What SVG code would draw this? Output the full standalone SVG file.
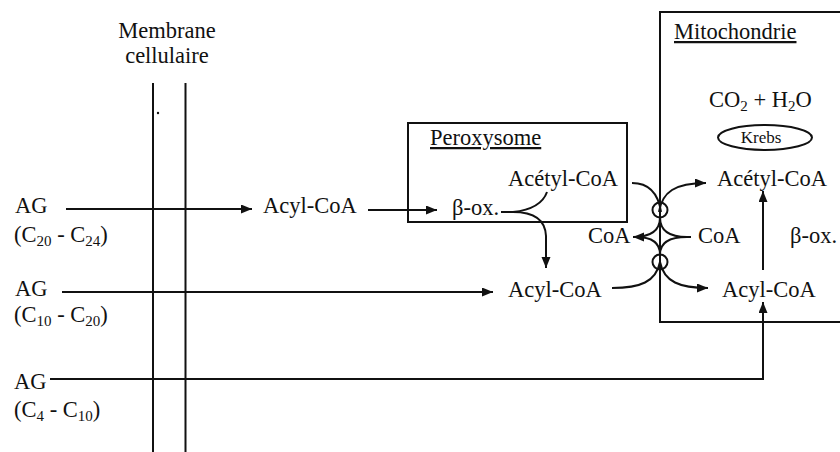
<svg xmlns="http://www.w3.org/2000/svg" width="840" height="452" viewBox="0 0 840 452">
<defs>
<style>
text{font-family:"Liberation Serif","Times New Roman",serif;font-size:22.5px;fill:#111}
.sub{font-size:15px}
.ln{fill:none;stroke:#111;stroke-width:2}
.box{fill:none;stroke:#111;stroke-width:2}
.u{text-decoration:underline}
</style>
<marker id="ah" markerUnits="userSpaceOnUse" markerWidth="12" markerHeight="10" refX="11" refY="4.5" orient="auto">
<path d="M0,0 L11,4.5 L0,9 Z" fill="#111"/>
</marker>
</defs>
<rect width="840" height="452" fill="#fff"/>

<g id="membrane">
<line class="ln" x1="153" y1="83" x2="153" y2="452"/>
<line class="ln" x1="185.5" y1="83" x2="185.5" y2="452"/>
<circle cx="158" cy="113" r="1.2" fill="#111"/>
<text x="167" y="38" text-anchor="middle">Membrane</text>
<text x="167" y="63" text-anchor="middle">cellulaire</text>
</g>

<g id="mitochondrie">
<path class="box" d="M840 12 H660 V322 H840"/>
<text x="674" y="39" class="u">Mitochondrie</text>
<text x="709" y="107">CO<tspan class="sub" dy="4">2</tspan><tspan dy="-4"> + H</tspan><tspan class="sub" dy="4">2</tspan><tspan dy="-4">O</tspan></text>
</g>

<g id="krebs">
<ellipse cx="765" cy="137.5" rx="47" ry="12.5" fill="none" stroke="#111" stroke-width="2"/>
<text x="761" y="143" text-anchor="middle" style="font-size:17px">Krebs</text>
</g>

<g id="peroxysome">
<rect class="box" x="408" y="123" width="219" height="99"/>
<text x="430" y="145" class="u">Peroxysome</text>
</g>

<g id="ag1"><text x="15" y="213">AG</text><text x="14" y="242">(C<tspan class="sub" dy="4">20</tspan><tspan dy="-4"> - C</tspan><tspan class="sub" dy="4">24</tspan><tspan dy="-4">)</tspan></text></g>
<g id="ag2"><text x="15" y="296">AG</text><text x="14" y="322">(C<tspan class="sub" dy="4">10</tspan><tspan dy="-4"> - C</tspan><tspan class="sub" dy="4">20</tspan><tspan dy="-4">)</tspan></text></g>
<g id="ag3"><text x="14" y="389">AG</text><text x="14" y="417">(C<tspan class="sub" dy="4">4</tspan><tspan dy="-4"> - C</tspan><tspan class="sub" dy="4">10</tspan><tspan dy="-4">)</tspan></text></g>

<g id="acylcoa-cyto"><text x="263" y="213">Acyl-CoA</text></g>
<g id="box-betaox"><text x="452" y="215">β-ox.</text></g>
<g id="acetylcoa-perox"><text x="508" y="186">Acétyl-CoA</text></g>
<g id="acylcoa-perox"><text x="508" y="297">Acyl-CoA</text></g>
<g id="coa-left"><text x="588" y="243">CoA</text></g>
<g id="coa-right"><text x="698" y="243">CoA</text></g>
<g id="acetylcoa-mito"><text x="717" y="186">Acétyl-CoA</text></g>
<g id="acylcoa-mito"><text x="722" y="297">Acyl-CoA</text></g>
<g id="betaox-mito"><text x="790" y="243">β-ox.</text></g>

<g id="transporters">
<circle cx="660" cy="210" r="7.5" fill="none" stroke="#111" stroke-width="2"/>
<circle cx="660" cy="262" r="7.5" fill="none" stroke="#111" stroke-width="2"/>
</g>

<g id="connectors">
<path class="ln" d="M66 209 H252" marker-end="url(#ah)"/>
<path class="ln" d="M368 210 H437" marker-end="url(#ah)"/>
<path class="ln" d="M501 212 H513"/>
<path class="ln" d="M513 212 Q541 209 547 192"/>
<path class="ln" d="M513 212 Q545 212 546 236 V268" marker-end="url(#ah)"/>
<path class="ln" d="M632 183 C648 183 658 192 661 212"/>
<path class="ln" d="M659 212 C662 192 675 183 706 183" marker-end="url(#ah)"/>
<path class="ln" d="M660 217.5 Q660 237 633 237" marker-end="url(#ah)"/>
<path class="ln" d="M660 254.5 Q660 237 636 237"/>
<path class="ln" d="M660 217.5 Q660 237 687 237"/>
<path class="ln" d="M660 254.5 Q660 237 687 237"/>
<path class="ln" d="M687 237 H691"/>
<path class="ln" d="M612 288 C640 288 656 282 660 262"/>
<path class="ln" d="M660 262 C664 282 680 288 708 288" marker-end="url(#ah)"/>
<path class="ln" d="M62 292 H493" marker-end="url(#ah)"/>
<path class="ln" d="M763 270 V191" marker-end="url(#ah)"/>
<path class="ln" d="M50 379 H763 V302" marker-end="url(#ah)"/>
</g>
</svg>
